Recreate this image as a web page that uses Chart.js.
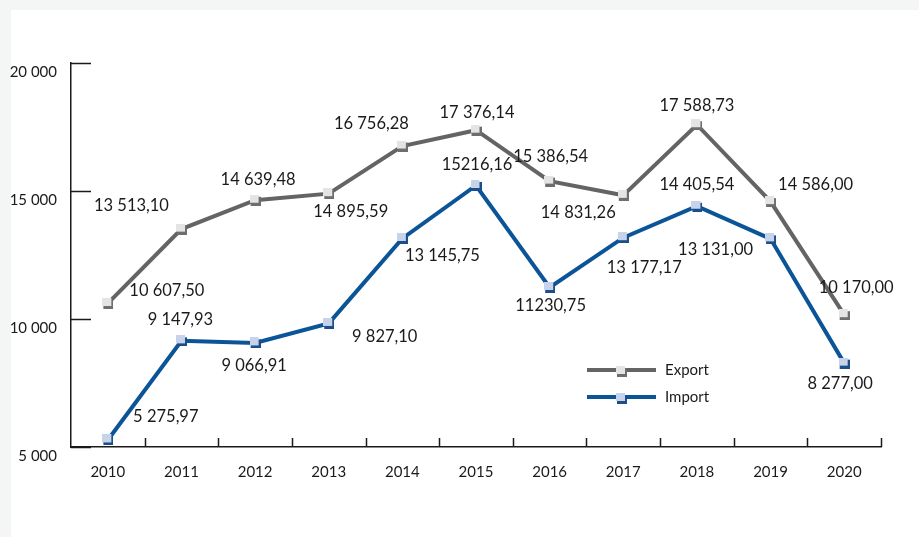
<!DOCTYPE html>
<html>
<head>
<meta charset="utf-8">
<script src="https://cdn.jsdelivr.net/npm/chart.js@4"></script>
<style>
    html, body { margin: 0; padding: 0; background: #f4f6f5; }
    #wrap { width: 919px; height: 537px; position: relative; }
</style>
</head>
<body>
<div id="wrap"><canvas id="myChart" width="919" height="537"></canvas></div>
<script>
const years = ['2010', '2011', '2012', '2013', '2014', '2015', '2016', '2017', '2018', '2019', '2020'];
const exportValues = [10607.50, 13513.10, 14639.48, 14895.59, 16756.28, 17376.14, 15386.54, 14831.26, 17588.73, 14586.00, 10170.00];
const importValues = [5275.97, 9147.93, 9066.91, 9827.10, 13145.75, 15216.16, 11230.75, 13177.17, 14405.54, 13131.00, 8277.00];
const exportText = ['10 607,50', '13 513,10', '14 639,48', '14 895,59', '16 756,28', '17 376,14', '15 386,54', '14 831,26', '17 588,73', '14 586,00', '10 170,00'];
const importText = ['5 275,97', '9 147,93', '9 066,91', '9 827,10', '13 145,75', '15216,16', '11230,75', '13 177,17', '14 405,54', '13 131,00', '8 277,00'];
const yTicks = [5000, 10000, 15000, 20000];

// where each value label sits relative to its point
const exportLabelShift = [[59, -13], [-50, -23], [3, -21], [22, 18], [-31, -22], [1, -17], [1, -24], [-45, 17], [0, -19], [45, -17], [12, -27]];
const importLabelShift = [[58, -23], [-1, -21], [-1, 23], [56, 13], [40, 17], [1, -21], [1, 18], [21, 30], [0, -22], [-55, 11], [-4, 21]];

const FONT = 'Lato, "Open Sans", sans-serif';
const exportColor = '#646464';
const importColor = '#0a5497';

// small square marker with a dark shadow edge
function makeMarker(light, dark) {
    const c = document.createElement('canvas');
    c.width = 11;
    c.height = 11;
    const g = c.getContext('2d');
    g.fillStyle = dark;
    g.fillRect(1, 2, 10, 9);
    g.fillStyle = light;
    g.fillRect(0, 0, 9, 8);
    return c;
}
const exportMarker = makeMarker('#e4e4e4', '#6e6e6e');
const importMarker = makeMarker('#c7d3ea', '#1c4f8a');

const bgPlugin = {
    id: 'bg',
    beforeDraw(chart) {
        const c = chart.ctx;
        c.save();
        c.fillStyle = '#f4f6f5';
        c.fillRect(0, 0, chart.width, chart.height);
        c.fillStyle = '#ffffff';
        c.fillRect(11, 10, chart.width - 11, chart.height - 10);
        c.restore();
    }
};

// tick marks drawn inward from the axes
const innerTicks = {
    id: 'innerTicks',
    afterDraw(chart) {
        const c = chart.ctx;
        const x = chart.scales.x;
        const y = chart.scales.y;
        c.save();
        c.strokeStyle = '#1a1a1a';
        c.lineWidth = 1.5;
        c.beginPath();
        yTicks.forEach(v => {
            const py = Math.round(y.getPixelForValue(v)) + 0.5;
            c.moveTo(x.left, py);
            c.lineTo(x.left + 20, py);
        });
        const step = (x.right - x.left) / years.length;
        for (let i = 1; i <= years.length; i++) {
            const px = Math.round(x.left + step * i) + 0.5;
            c.moveTo(px, y.bottom);
            c.lineTo(px, y.bottom - 9);
        }
        c.stroke();
        c.restore();
    }
};

const valueLabels = {
    id: 'valueLabels',
    afterDatasetsDraw(chart) {
        const c = chart.ctx;
        const texts = [exportText, importText];
        const shifts = [exportLabelShift, importLabelShift];
        c.save();
        c.font = '16.5px ' + FONT;
        c.fillStyle = '#1a1a1a';
        c.textAlign = 'center';
        c.textBaseline = 'middle';
        chart.data.datasets.forEach((ds, d) => {
            chart.getDatasetMeta(d).data.forEach((pt, i) => {
                c.fillText(texts[d][i], pt.x + shifts[d][i][0], pt.y + shifts[d][i][1]);
            });
        });
        c.restore();
    }
};

const legendBox = {
    id: 'legendBox',
    afterDraw(chart) {
        const c = chart.ctx;
        const items = [
            { name: 'Export', color: exportColor, marker: exportMarker, y: 370 },
            { name: 'Import', color: importColor, marker: importMarker, y: 397 }
        ];
        c.save();
        c.font = '15px ' + FONT;
        c.textBaseline = 'middle';
        c.fillStyle = '#1a1a1a';
        items.forEach(it => {
            c.strokeStyle = it.color;
            c.lineWidth = 4;
            c.beginPath();
            c.moveTo(587, it.y);
            c.lineTo(656, it.y);
            c.stroke();
            c.drawImage(it.marker, 616, it.y - 4);
            c.fillStyle = '#1a1a1a';
            c.fillText(it.name, 665, it.y);
        });
        c.restore();
    }
};

const ctx = document.getElementById('myChart');

const config = {
    type: 'line',
    data: {
        labels: years,
        datasets: [{
            label: 'Export',
            data: exportValues,
            borderColor: exportColor,
            borderWidth: 4,
            pointStyle: exportMarker,
            pointRadius: 5,
            tension: 0
        }, {
            label: 'Import',
            data: importValues,
            borderColor: importColor,
            borderWidth: 4,
            pointStyle: importMarker,
            pointRadius: 5,
            tension: 0
        }]
    },
    options: {
        responsive: false,
        animation: false,
        events: [],
        layout: { padding: { top: 63, right: 38, left: 0, bottom: 0 } },
        plugins: {
            legend: { display: false },
            tooltip: { enabled: false }
        },
        scales: {
            x: {
                offset: true,
                grid: { display: false, drawTicks: false },
                border: { display: true, color: '#1a1a1a', width: 1.5 },
                ticks: { color: '#1a1a1a', font: { family: FONT, size: 15 }, padding: 16, maxRotation: 0 },
                afterFit(scale) { scale.height = 90; }
            },
            y: {
                min: 5000,
                max: 20000,
                afterBuildTicks(scale) { scale.ticks = yTicks.map(v => ({ value: v })); },
                grid: { display: false, drawTicks: false },
                border: { display: true, color: '#1a1a1a', width: 1.5 },
                ticks: {
                    color: '#1a1a1a',
                    font: { family: FONT, size: 15 },
                    padding: 14,
                    labelOffset: 9,
                    callback: v => String(v).replace(/\B(?=(\d{3})+(?!\d))/g, ' ')
                },
                afterFit(scale) { scale.width = 71; }
            }
        }
    },
    plugins: [bgPlugin, innerTicks, valueLabels, legendBox]
};

const chart = new Chart(ctx, config);
</script>
</body>
</html>
